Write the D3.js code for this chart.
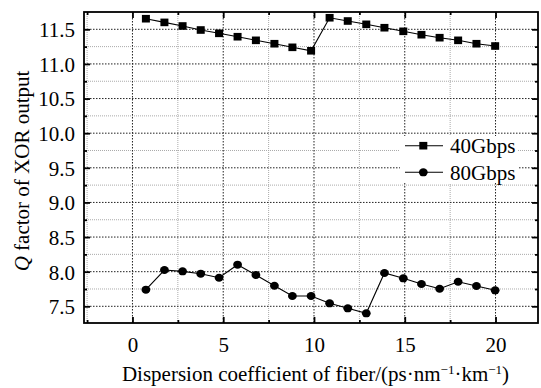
<!DOCTYPE html>
<html><head><meta charset="utf-8">
<script src="https://cdn.jsdelivr.net/npm/d3@7"></script>
<style>body{margin:0;background:#fff}svg{display:block}text{font-family:"Liberation Serif","Times New Roman",serif;fill:#000}</style>
</head><body><svg id="c" width="541" height="388"></svg>
<script>
const dispersion = [0.74,1.76,2.76,3.76,4.77,5.79,6.8,7.82,8.81,9.84,10.86,11.86,12.88,13.88,14.92,15.92,16.92,17.94,18.95,19.98];
const q40 = [11.653,11.60,11.548,11.49,11.442,11.393,11.341,11.292,11.24,11.19,11.667,11.62,11.572,11.523,11.471,11.422,11.379,11.341,11.292,11.259];
const q80 = [7.74,8.024,8.005,7.971,7.913,8.101,7.952,7.797,7.649,7.649,7.543,7.471,7.399,7.981,7.904,7.822,7.754,7.855,7.793,7.731];
const xMajor = [0,5,10,15,20];
const xMinor = [-2.5,2.5,7.5,12.5,17.5,22.5];
const yMajor = [7.5,8.0,8.5,9.0,9.5,10.0,10.5,11.0,11.5];
const yMinor = [7.25,7.75,8.25,8.75,9.25,9.75,10.25,10.75,11.25,11.75];
const seriesNames = ["40Gbps","80Gbps"];

const L=84,R=538,T=12,B=323;
const FONT='"Liberation Serif","Times New Roman",serif';
const svg=d3.select("#c");
const x=d3.scaleLinear().domain([-2.67,22.34]).range([L,R]);
const y=d3.scaleLinear().domain([7.259,11.75]).range([B,T]);
const inX=v=>x(v)>L+1&&x(v)<R-1, inY=v=>y(v)>T+1&&y(v)<B-1;

// grid
const g=svg.append("g");
g.selectAll(".gxm").data(xMinor.filter(inX)).enter().append("line")
 .attr("x1",d=>x(d)).attr("x2",d=>x(d)).attr("y1",T).attr("y2",B)
 .attr("stroke","#aaa").attr("stroke-dasharray","1,1");
g.selectAll(".gym").data(yMinor.filter(inY)).enter().append("line")
 .attr("y1",d=>y(d)).attr("y2",d=>y(d)).attr("x1",L).attr("x2",R)
 .attr("stroke","#aaa").attr("stroke-dasharray","1,1");
g.selectAll(".gx").data(xMajor).enter().append("line")
 .attr("x1",d=>x(d)).attr("x2",d=>x(d)).attr("y1",T).attr("y2",B)
 .attr("stroke","#222").attr("stroke-dasharray","1.5,1.5");
g.selectAll(".gy").data(yMajor).enter().append("line")
 .attr("y1",d=>y(d)).attr("y2",d=>y(d)).attr("x1",L).attr("x2",R)
 .attr("stroke","#222").attr("stroke-dasharray","1.5,1.5");

// axes with inward ticks
const axB=d3.axisBottom(x).tickValues(xMajor).tickSize(-6).tickPadding(14).tickFormat(d3.format("d"));
const axBm=d3.axisBottom(x).tickValues(xMinor.filter(inX)).tickSize(-3).tickFormat("");
const axT=d3.axisTop(x).tickValues(xMajor).tickSize(-6).tickFormat("");
const axTm=d3.axisTop(x).tickValues(xMinor.filter(inX)).tickSize(-3).tickFormat("");
const axL=d3.axisLeft(y).tickValues(yMajor).tickSize(-6).tickPadding(9).tickFormat(d3.format(".1f"));
const axLm=d3.axisLeft(y).tickValues(yMinor.filter(inY)).tickSize(-3).tickFormat("");
const axR=d3.axisRight(y).tickValues(yMajor).tickSize(-6).tickFormat("");
const axRm=d3.axisRight(y).tickValues(yMinor.filter(inY)).tickSize(-3).tickFormat("");
function put(ax,tr){const a=svg.append("g").attr("transform",tr).call(ax)
  .attr("font-family",FONT).attr("font-size",21);
 a.select(".domain").remove(); a.selectAll(".tick line").attr("stroke","#000").attr("stroke-width",1.8);
 a.selectAll("text").attr("fill","#000");return a;}
put(axB,`translate(0,${B})`).selectAll("text").attr("dy","0.71em");
put(axBm,`translate(0,${B})`);
put(axT,`translate(0,${T})`);put(axTm,`translate(0,${T})`);
put(axL,`translate(${L},0)`).selectAll("text").attr("dy","0.35em");
put(axLm,`translate(${L},0)`);
put(axR,`translate(${R},0)`);put(axRm,`translate(${R},0)`);

// frame
svg.append("rect").attr("x",L).attr("y",T).attr("width",R-L).attr("height",B-T)
 .attr("fill","none").attr("stroke","#000").attr("stroke-width",1.8);

// lines
const line=d3.line().x(d=>x(d[0])).y(d=>y(d[1]));
const d40=dispersion.map((v,i)=>[v,q40[i]]), d80=dispersion.map((v,i)=>[v,q80[i]]);
[d40,d80].forEach(d=>svg.append("path").datum(d).attr("d",line).attr("fill","none").attr("stroke","#000").attr("stroke-width",1.1));
svg.selectAll(".sq").data(d40).enter().append("rect")
 .attr("x",d=>x(d[0])-4).attr("y",d=>y(d[1])-3.8).attr("width",8).attr("height",7.6).attr("fill","#000");
svg.selectAll(".ci").data(d80).enter().append("ellipse")
 .attr("cx",d=>x(d[0])).attr("cy",d=>y(d[1])).attr("rx",4.4).attr("ry",4).attr("fill","#000");

// legend
const lg=svg.append("g");
lg.append("rect").attr("x",400).attr("y",136).attr("width",118).attr("height",47).attr("fill","#fff");
[[145.7,152.6],[172.3,179.6]].forEach((p,i)=>{
 lg.append("line").attr("x1",405).attr("x2",443).attr("y1",p[0]).attr("y2",p[0]).attr("stroke","#000").attr("stroke-width",1.1);
 if(i===0) lg.append("rect").attr("x",419.3).attr("y",p[0]-3.8).attr("width",8).attr("height",7.6).attr("fill","#000");
 else lg.append("ellipse").attr("cx",423.3).attr("cy",p[0]).attr("rx",4.4).attr("ry",4).attr("fill","#000");
 lg.append("text").attr("x",450).attr("y",p[1]).style("font-size","21px").text(seriesNames[i]);
});

// axis titles
const xt=svg.append("text").attr("x",315.5).attr("y",381).attr("text-anchor","middle").style("font-size","21px");
xt.append("tspan").text("Dispersion coefficient of fiber/(ps·nm");
xt.append("tspan").attr("dy","-7").style("font-size","13px").text("−1");
xt.append("tspan").attr("dy","7").text("·km");
xt.append("tspan").attr("dy","-7").style("font-size","13px").text("−1");
xt.append("tspan").attr("dy","7").text(")");

const yt=svg.append("text").attr("transform","translate(29,171) rotate(-90)").attr("text-anchor","middle").style("font-size","21px");
yt.append("tspan").style("font-style","italic").text("Q");
yt.append("tspan").text(" factor of XOR output");
</script></body></html>
